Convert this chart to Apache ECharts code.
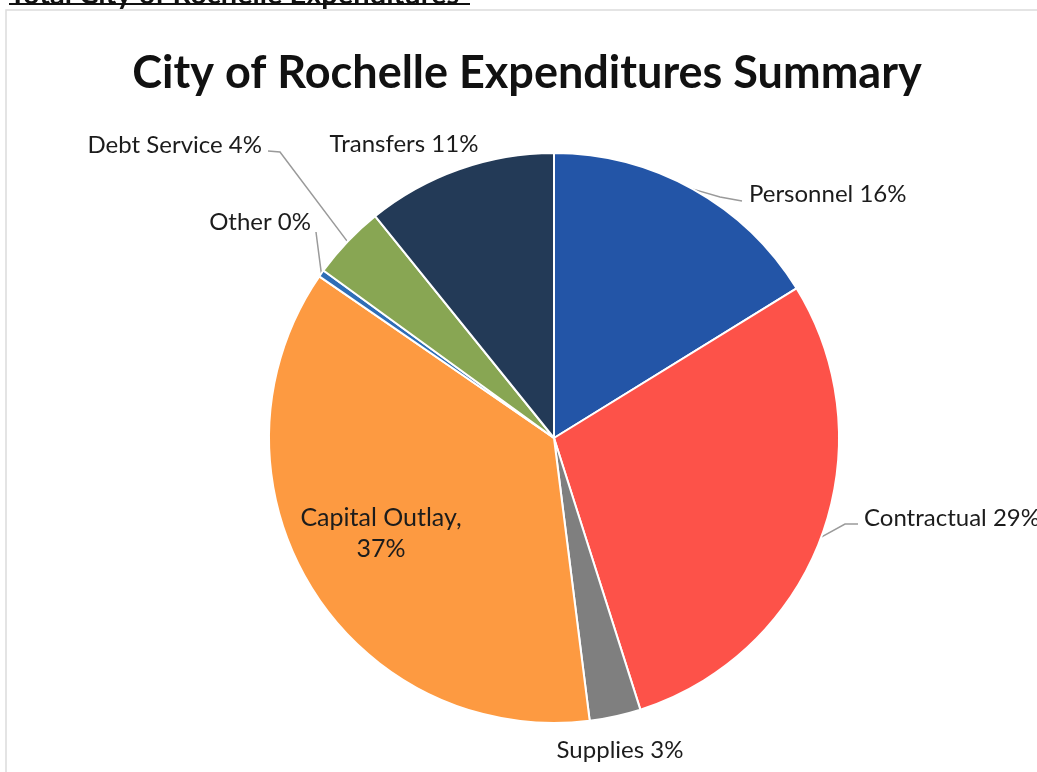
<!DOCTYPE html>
<html>
<head>
<meta charset="utf-8">
<script src="https://cdn.jsdelivr.net/npm/echarts@6/dist/echarts.min.js"></script>
<style>
  html, body { margin: 0; padding: 0; background: #ffffff; }
  #main { width: 1037px; height: 772px; }
</style>
</head>
<body>
<div id="main"></div>
<script>
var categories = ['Personnel', 'Contractual', 'Supplies', 'Capital Outlay', 'Other', 'Debt Service', 'Transfers'];
var shares = [16.2, 28.9, 2.9, 36.6, 0.4, 4.2, 10.8];
var sliceColors = ['#2355a7', '#fd5249', '#7f7f7f', '#fd9a41', '#2e6db6', '#88a653', '#233a57'];

// where each label sits, and the bend of its leader line (Excel placed these by hand)
var labelSpots = [
    { x: 749, y: 194, align: 'left', bend: [[720, 197], [742, 201]] },
    { x: 864, y: 518, align: 'left', bend: [[845, 524], [858, 524]] },
    { x: 620, y: 750, align: 'center' },
    { x: 381, y: 533, align: 'center' },
    { x: 311, y: 222, align: 'right', bend: [[317, 240], [316, 232]] },
    { x: 262, y: 145, align: 'right', bend: [[280, 152], [268, 151]] },
    { x: 404, y: 144, align: 'center' }
];

var chart = echarts.init(document.getElementById('main'));

var pieData = categories.map(function (name, i) {
    var item = {
        name: name,
        value: shares[i],
        itemStyle: { color: sliceColors[i] }
    };
    if (!labelSpots[i].bend) {
        item.labelLine = { show: false };
    }
    if (name === 'Capital Outlay') {
        item.label = { position: 'inside', formatter: '{b},\n{d}%', lineHeight: 31, fontSize: 25 };
    }
    return item;
});

var option = {
    backgroundColor: '#ffffff',
    title: {
        text: 'City of Rochelle Expenditures Summary',
        left: 522,
        top: 46,
        textAlign: 'center',
        textStyle: {
            fontFamily: 'Lato',
            fontWeight: 'bold',
            fontSize: 45,
            color: '#111111'
        }
    },
    graphic: [
        {
            type: 'rect',
            shape: { x: 6, y: 10, width: 1100, height: 800 },
            style: { fill: null, stroke: '#dcdcdc', lineWidth: 1.5 },
            silent: true
        },
        {
            type: 'text',
            style: {
                x: 9, y: 9,
                text: 'Total City of Rochelle Expenditures',
                verticalAlign: 'bottom',
                font: 'bold 29px Lato',
                fill: '#111111'
            },
            silent: true
        },
        {
            type: 'line',
            shape: { x1: 9, y1: 4, x2: 470, y2: 4 },
            style: { stroke: '#111111', lineWidth: 2 },
            silent: true
        }
    ],
    series: [
        {
            type: 'pie',
            center: [554, 438],
            radius: 285,
            startAngle: 90,
            clockwise: true,
            percentPrecision: 0,
            avoidLabelOverlap: false,
            itemStyle: { borderColor: '#ffffff', borderWidth: 2 },
            label: {
                show: true,
                formatter: '{b} {d}%',
                fontFamily: 'Lato',
                fontSize: 24,
                color: '#1c1c1c',
                overflow: 'none'
            },
            labelLine: {
                show: true,
                lineStyle: { color: '#9a9a9a', width: 1.5 }
            },
            labelLayout: function (p) {
                var spot = labelSpots[p.dataIndex];
                var out = { x: spot.x, y: spot.y, align: spot.align, verticalAlign: 'middle' };
                if (spot.bend && p.labelLinePoints) {
                    out.labelLinePoints = [p.labelLinePoints[0]].concat(spot.bend);
                }
                return out;
            },
            emphasis: { disabled: true },
            data: pieData
        }
    ]
};

chart.setOption(option);
</script>
</body>
</html>
